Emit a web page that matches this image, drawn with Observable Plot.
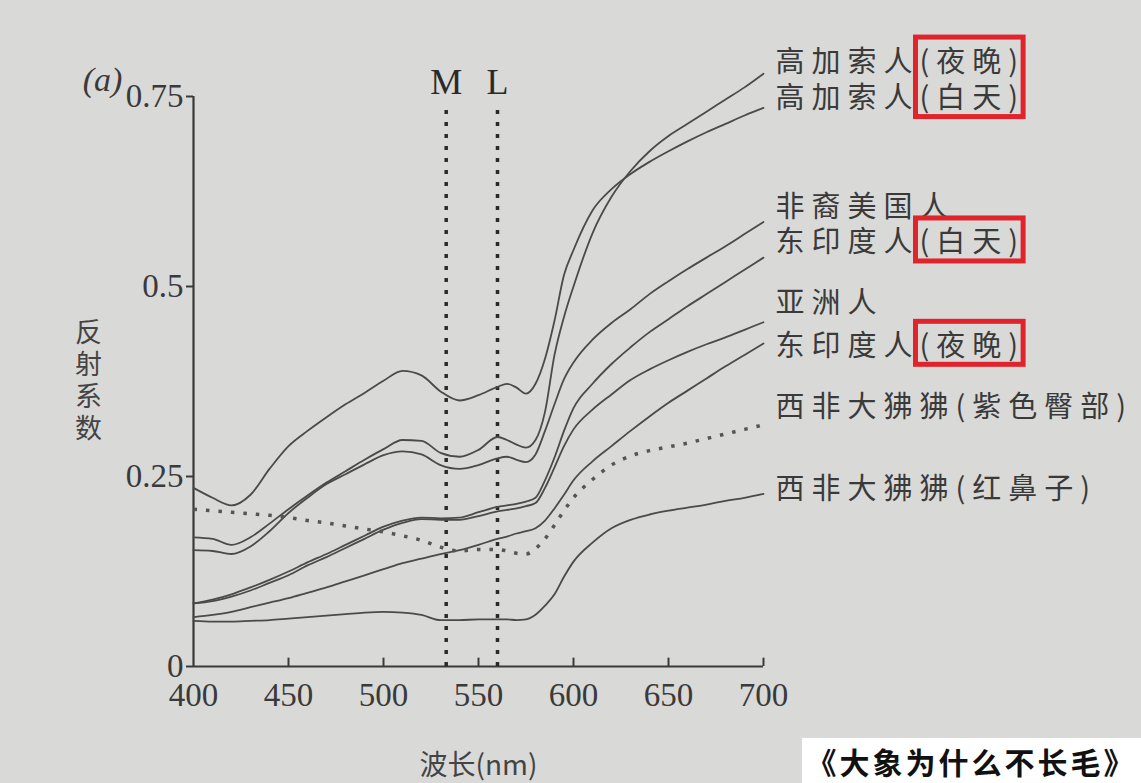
<!DOCTYPE html>
<html><head><meta charset="utf-8">
<script src="https://cdn.jsdelivr.net/npm/d3@7"></script>
<script src="https://cdn.jsdelivr.net/npm/@observablehq/plot@0.6"></script>
<style>
html,body{margin:0;padding:0;background:#d9d9d7;}
#wrap{position:relative;width:1141px;height:783px;overflow:hidden;background:#d9d9d7;}
#caption{position:absolute;right:0;bottom:0;width:339px;height:45px;background:#fff;font-family:"Noto Sans CJK SC";font-weight:700;font-size:30px;letter-spacing:3px;color:#111;display:flex;align-items:center;justify-content:center;}
</style></head><body>
<div id="wrap"><div id="chart"></div><div id="caption">《大象为什么不长毛》</div></div>
<script>
// wavelength grid (nm)
const wavelengths = [400,410,420,430,440,450,460,470,480,490,500,510,520,530,540,550,560,565,570,575,580,585,590,595,600,610,620,630,640,650,660,670,680,690,700];

// reflectance series
const caucasianDay   = [0.235,0.222,0.212,0.226,0.260,0.290,0.310,0.328,0.345,0.360,0.376,0.389,0.383,0.362,0.350,0.357,0.368,0.372,0.367,0.359,0.372,0.405,0.455,0.515,0.548,0.600,0.628,0.648,0.664,0.678,0.691,0.703,0.714,0.725,0.735];
const caucasianNight = [0.170,0.168,0.160,0.170,0.188,0.207,0.225,0.242,0.257,0.272,0.286,0.298,0.297,0.281,0.276,0.285,0.302,0.298,0.292,0.288,0.298,0.335,0.410,0.460,0.500,0.570,0.618,0.652,0.678,0.698,0.714,0.730,0.746,0.762,0.780];
const africanAmerican= [0.153,0.152,0.148,0.158,0.178,0.202,0.222,0.240,0.253,0.266,0.278,0.283,0.279,0.265,0.260,0.265,0.274,0.276,0.272,0.269,0.279,0.310,0.345,0.378,0.400,0.430,0.452,0.470,0.490,0.507,0.523,0.538,0.553,0.569,0.585];
const eastIndianDay  = [0.083,0.088,0.095,0.104,0.114,0.125,0.137,0.148,0.160,0.172,0.184,0.192,0.196,0.195,0.196,0.203,0.210,0.212,0.214,0.217,0.222,0.245,0.275,0.310,0.340,0.372,0.398,0.420,0.440,0.457,0.474,0.490,0.506,0.522,0.538];
const asian          = [0.083,0.086,0.092,0.100,0.110,0.120,0.133,0.144,0.156,0.168,0.180,0.189,0.194,0.193,0.193,0.198,0.204,0.206,0.208,0.211,0.215,0.235,0.262,0.290,0.312,0.338,0.358,0.377,0.391,0.403,0.414,0.424,0.433,0.443,0.453];
const eastIndianNight= [0.065,0.068,0.072,0.078,0.084,0.090,0.097,0.104,0.112,0.120,0.128,0.136,0.142,0.148,0.153,0.160,0.168,0.171,0.175,0.178,0.182,0.192,0.208,0.226,0.245,0.270,0.290,0.310,0.329,0.347,0.363,0.379,0.395,0.410,0.425];
const mandrillRump   = [0.207,0.205,0.203,0.201,0.199,0.196,0.192,0.189,0.185,0.181,0.177,0.172,0.166,0.157,0.152,0.154,0.154,0.152,0.149,0.148,0.155,0.168,0.186,0.205,0.222,0.246,0.265,0.277,0.284,0.289,0.294,0.300,0.306,0.312,0.318];
const mandrillNose   = [0.060,0.059,0.059,0.060,0.061,0.063,0.065,0.067,0.069,0.071,0.072,0.071,0.068,0.061,0.061,0.062,0.062,0.062,0.061,0.062,0.068,0.080,0.095,0.118,0.138,0.163,0.182,0.193,0.200,0.205,0.209,0.213,0.218,0.222,0.227];

const seriesNames = ["高加索人(夜晚)","高加索人(白天)","非裔美国人","东印度人(白天)","亚洲人","东印度人(夜晚)","西非大狒狒(紫色臀部)","西非大狒狒(红鼻子)"];
const seriesValues = [caucasianNight, caucasianDay, africanAmerican, eastIndianDay, asian, eastIndianNight, mandrillRump, mandrillNose];
const seriesDotted = [false,false,false,false,false,false,true,false];
// label anchor (reflectance units) for each series name at right
const labelLevels = [0.795,0.747,0.604,0.557,0.477,0.421,0.341,0.232];
// labels whose parenthetical part is boxed in red (groups share a box)
const boxedGroups = [[0,1],[3],[5]];

const conePeaks = [533, 560];
const coneNames = ["M","L"];
const xTicks = [400,450,500,550,600,650,700];
const yTicks = [0,0.25,0.5,0.75];
const yLabelChars = ["反","射","系","数"];
const xLabel = "波长(nm)";
const panelTag = "(a)";

const rows = seriesNames.flatMap((name, s) => wavelengths.map((w, i) => ({name, w, v: seriesValues[s][i], dotted: seriesDotted[s]})));
const solidRows = rows.filter(d => !d.dotted);
const dottedRows = rows.filter(d => d.dotted);
const labelRows = seriesNames.map((name, i) => ({name, lv: labelLevels[i]}));
const cones = conePeaks.map((nm, i) => ({nm, name: coneNames[i]}));
const yLabelRows = yLabelChars.map((c, i) => ({c, k: i - (yLabelChars.length - 1) / 2}));

const serif = "'Liberation Serif', 'DejaVu Serif', serif";
const cjk = "'Noto Sans CJK SC', 'Noto Sans', sans-serif";
const ink = "#3a3a3a";

const chart = Plot.plot({
  width: 1141, height: 783,
  marginLeft: 193, marginRight: 378, marginTop: 96, marginBottom: 117,
  style: {background: "transparent", color: ink, fontFamily: serif, overflow: "visible"},
  x: {domain: [400, 700]},
  y: {domain: [0, 0.75]},
  marks: [
    Plot.axisY({ticks: yTicks, tickFormat: d => String(d), tickSize: 7, tickPadding: 3, fontSize: 33, fontFamily: serif, label: null, strokeWidth: 2}),
    Plot.axisX({ticks: xTicks, tickSize: 0, tickPadding: 16, fontSize: 33, fontFamily: serif, label: null}),
    Plot.ruleX(xTicks.slice(1), {y1: 0, y2: 0.011, stroke: ink, strokeWidth: 2}),
    Plot.ruleX([400], {stroke: ink, strokeWidth: 2.2}),
    Plot.ruleY([0], {stroke: ink, strokeWidth: 2.2}),
    Plot.ruleX(cones, {x: "nm", y1: 0, y2: 0.735, stroke: "#2a2a2a", strokeWidth: 3.5, strokeDasharray: "4,8"}),
    Plot.text(cones, {x: "nm", frameAnchor: "top", lineAnchor: "middle", dy: -14, text: "name", fontSize: 36, fontFamily: serif, fill: "#2a2a2a"}),
    Plot.line(solidRows, {x: "w", y: "v", z: "name", stroke: "#4a4a4a", strokeWidth: 1.8, curve: "monotone-x"}),
    Plot.line(dottedRows, {x: "w", y: "v", z: "name", stroke: "#555", strokeWidth: 3.5, strokeDasharray: "3.5,9", strokeLinecap: "butt", curve: "monotone-x"}),
    Plot.text(labelRows, {x: () => 700, y: "lv", text: "name", textAnchor: "start", dx: 12, fontSize: 29, fontFamily: cjk, fill: ink}),
    // stacked vertical y label, one glyph per row, centred on the frame's left edge
    ...yLabelRows.map(d => Plot.text([d.c], {text: t => t, frameAnchor: "left", textAnchor: "middle", dx: -105, dy: d.k * 32, fontSize: 27, fontFamily: cjk, fill: "#444"})),
    Plot.text([xLabel], {text: d => d, frameAnchor: "bottom", lineAnchor: "middle", dy: 100, fontSize: 28, fontFamily: cjk, fill: "#444"}),
    Plot.text([panelTag], {text: d => d, frameAnchor: "top-left", textAnchor: "middle", lineAnchor: "middle", dx: -91, dy: -16, fontSize: 34, fontStyle: "italic", fontFamily: serif, fill: ink})
  ]
});

document.getElementById("chart").append(chart);

// letter spacing on series labels, then red boxes around boxed parentheticals
const labelEls = {};
d3.select(chart).selectAll("text").each(function() {
  const t = this.textContent;
  const idx = seriesNames.indexOf(t);
  if (idx >= 0) { this.style.letterSpacing = "7px"; labelEls[idx] = this; }
});
const svgNS = "http://www.w3.org/2000/svg";
for (const group of boxedGroups) {
  let x0 = Infinity, x1 = -Infinity, y0 = Infinity, y1 = -Infinity;
  for (const i of group) {
    const el = labelEls[i]; if (!el) continue;
    const s = seriesNames[i];
    const a = s.indexOf("("), b = s.length - 1;
    const ctm = el.getCTM();
    const ea = el.getExtentOfChar(a), eb = el.getExtentOfChar(b);
    const pt = (x, y) => { const p = chart.createSVGPoint(); p.x = x; p.y = y; return p.matrixTransform(ctm); };
    const pa = pt(ea.x, ea.y + ea.height / 2), pb = pt(eb.x + eb.width, eb.y + eb.height / 2);
    x0 = Math.min(x0, pa.x); x1 = Math.max(x1, pb.x);
    y0 = Math.min(y0, pa.y - 14.5); y1 = Math.max(y1, pa.y + 14.5);
  }
  const pad = 7;
  const r = document.createElementNS(svgNS, "rect");
  r.setAttribute("x", x0 - 4); r.setAttribute("y", y0 - pad);
  r.setAttribute("width", x1 - x0 + 2); r.setAttribute("height", y1 - y0 + 2 * pad);
  r.setAttribute("fill", "none"); r.setAttribute("stroke", "#e1242b"); r.setAttribute("stroke-width", 5);
  chart.appendChild(r);
}
</script>
</body></html>
